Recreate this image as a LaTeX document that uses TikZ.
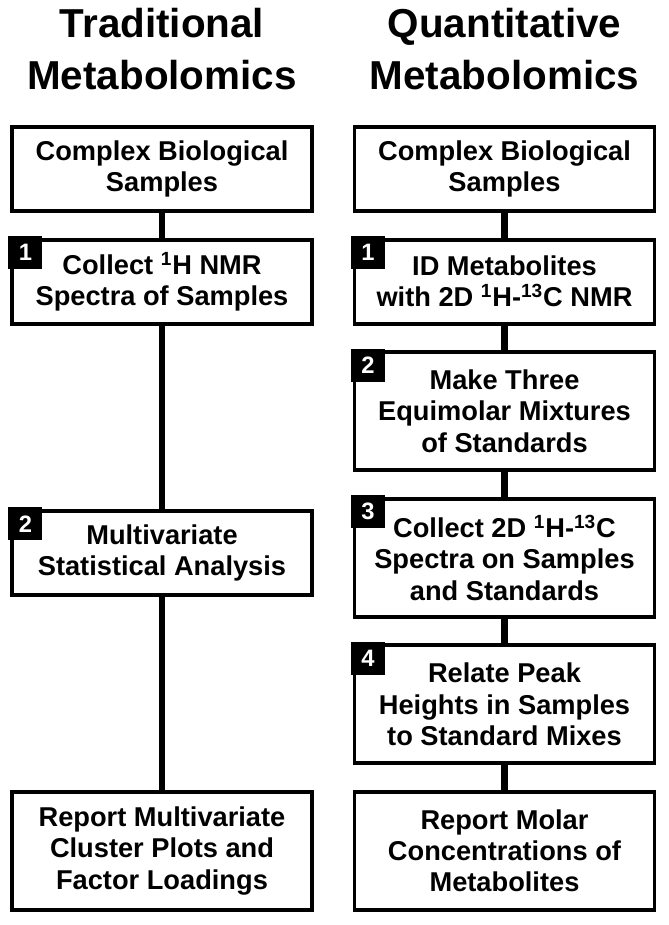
\documentclass[tikz,border=0pt]{standalone}
\usepackage{fontspec}
\setmainfont{Liberation Sans}
\usetikzlibrary{positioning}

\begin{document}
\begin{tikzpicture}[
    stepbox/.style={draw=black, line width=2.2pt, minimum width=6cm, minimum height=1.68cm,
        align=center, inner sep=2pt, font=\fontsize{15.5}{17.8}\selectfont\bfseries},
    tallbox/.style={stepbox, minimum height=2.36cm},
    numtag/.style={fill=black, text=white, minimum width=0.68cm, minimum height=0.66cm,
        inner sep=0pt, anchor=north west, font=\fontsize{13.5}{13.5}\selectfont\bfseries},
    colhead/.style={align=center, inner sep=0pt, anchor=north,
        font=\fontsize{23}{29.5}\selectfont\bfseries},
    link/.style={line width=3.5pt}
]
\useasboundingbox (0,0) rectangle (13.36,-18.5);

% column headings
\node[colhead] (tradhead) at (3.24,-0.16) {Traditional\\Metabolomics};
\node[colhead] (quanthead) at (10.09,-0.16) {Quantitative\\Metabolomics};

% quantitative workflow, stacked top to bottom
\node[stepbox] (qsamples) at (10.09,-3.38) {Complex Biological\\Samples};
\node[stepbox, below=0.494cm of qsamples] (qident) {ID Metabolites\\with 2D \textsuperscript{1}H-\textsuperscript{13}C NMR};
\node[tallbox, below=0.494cm of qident] (qmix) {Make Three\\Equimolar Mixtures\\of Standards};
\node[tallbox, below=0.494cm of qmix] (qcollect) {Collect 2D \textsuperscript{1}H-\textsuperscript{13}C\\Spectra on Samples\\and Standards};
\node[tallbox, below=0.494cm of qcollect] (qrelate) {Relate Peak\\Heights in Samples\\to Standard Mixes};
\node[tallbox, below=0.494cm of qrelate] (qreport) {Report Molar\\Concentrations of\\Metabolites};

% traditional workflow, rows lined up with the right column
\node[stepbox] (tsamples) at (3.24,0 |- qsamples) {Complex Biological\\Samples};
\node[stepbox] (tcollect) at (3.24,0 |- qident) {Collect \textsuperscript{1}H NMR\\Spectra of Samples};
\node[stepbox] (tstats) at (3.24,-11.06) {Multivariate\\Statistical Analysis};
\node[tallbox] (treport) at (3.24,0 |- qreport) {Report Multivariate\\Cluster Plots and\\Factor Loadings};

% step numbers in the top left corners
\foreach \stepname/\stepnum in {tcollect/1, tstats/2, qident/1, qmix/2, qcollect/3, qrelate/4}
  \node[numtag] (\stepname-num) at ([xshift=-1.1pt,yshift=1.1pt]\stepname.north west) {\stepnum};

% connectors
\foreach \upper/\lower in {tsamples/tcollect, tcollect/tstats, tstats/treport,
    qsamples/qident, qident/qmix, qmix/qcollect, qcollect/qrelate, qrelate/qreport}
  \draw[link] (\upper.south) -- (\lower.north);
\end{tikzpicture}
\end{document}
